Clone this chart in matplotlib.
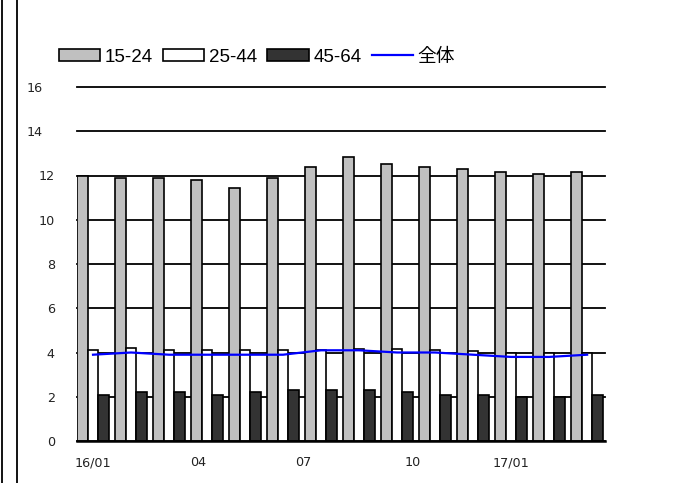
import matplotlib
matplotlib.use('Agg')
import matplotlib.pyplot as plt
import matplotlib.transforms as mtransforms
from matplotlib.lines import Line2D
import numpy as np

plt.rcParams['font.family'] = ['DejaVu Sans', 'Noto Sans CJK JP']

# monthly values, 16/01 .. 17/02
age_15_24 = [12.0, 11.9, 11.9, 11.8, 11.45, 11.9, 12.4, 12.85, 12.5, 12.4, 12.3, 12.15, 12.05, 12.15]
age_25_44 = [4.1, 4.2, 4.1, 4.1, 4.1, 4.1, 4.1, 4.15, 4.15, 4.1, 4.05, 4.0, 4.0, 4.0]
age_45_64 = [2.1, 2.2, 2.2, 2.1, 2.2, 2.3, 2.3, 2.3, 2.2, 2.1, 2.1, 2.0, 2.0, 2.1]
total = [3.9, 4.0, 3.9, 3.9, 3.9, 3.9, 4.1, 4.1, 4.0, 4.0, 3.9, 3.8, 3.8, 3.9]

tick_labels = ['16/01', '04', '07', '10', '17/01']
tick_pos = [0.0, 2.76, 5.53, 8.42, 11.0]

x = np.arange(len(age_15_24))
w = 0.281

fig = plt.figure(figsize=(6.75, 4.83), dpi=100)
ax = fig.add_axes([77 / 675, 1 - 441 / 483, 528 / 675, 354 / 483])

ax.set_axisbelow(True)
ax.yaxis.grid(True, color='black', linewidth=1.3)

b1 = ax.bar(x - w, age_15_24, w, color='#c0c0c0', edgecolor='black', linewidth=1.2, label='15-24')
b2 = ax.bar(x, age_25_44, w, color='white', edgecolor='black', linewidth=1.2, label='25-44')
b3 = ax.bar(x + w, age_45_64, w, color='#333333', edgecolor='black', linewidth=1.2, label='45-64')
ln, = ax.plot(x, total, color='#0000ff', linewidth=1.6, label='全体', zorder=5)

ax.set_ylim(0, 16)
ax.set_xlim(-1.5 * w, 13.47)
ax.set_yticks(range(0, 17, 2))
ax.set_xticks(tick_pos)
ax.set_xticklabels(tick_labels)
ax.tick_params(axis='both', length=0, labelsize=9.2, labelcolor='#222222')
ax.tick_params(axis='y', pad=16)
ax.tick_params(axis='x', pad=11)
for gl in ax.get_ygridlines():
    gl.set_clip_on(False)

# the two top labels sit further left
shift = mtransforms.ScaledTranslation(-12 / 100, 0, fig.dpi_scale_trans)
for lab in ax.get_yticklabels()[-2:]:
    lab.set_transform(lab.get_transform() + shift)

for s in ['top', 'right', 'left']:
    ax.spines[s].set_visible(False)
ax.spines['bottom'].set_linewidth(1.8)

fig.legend(handles=[b1, b2, b3, ln], loc='center', bbox_to_anchor=(257 / 675, 1 - 57 / 483),
           ncol=4, frameon=False, prop={'family': ['Liberation Sans', 'Noto Sans CJK JP'], 'size': 13.5},
           handlelength=2.2, handleheight=0.6, handletextpad=0.25,
           columnspacing=0.55, borderaxespad=0)

# page frame lines on the left
fig.add_artist(Line2D([1.5 / 675, 1.5 / 675], [0, 1], color='black', linewidth=1.3))
fig.add_artist(Line2D([17 / 675, 17 / 675], [0, 1], color='black', linewidth=1.3))

fig.savefig('out.png', dpi=100)
